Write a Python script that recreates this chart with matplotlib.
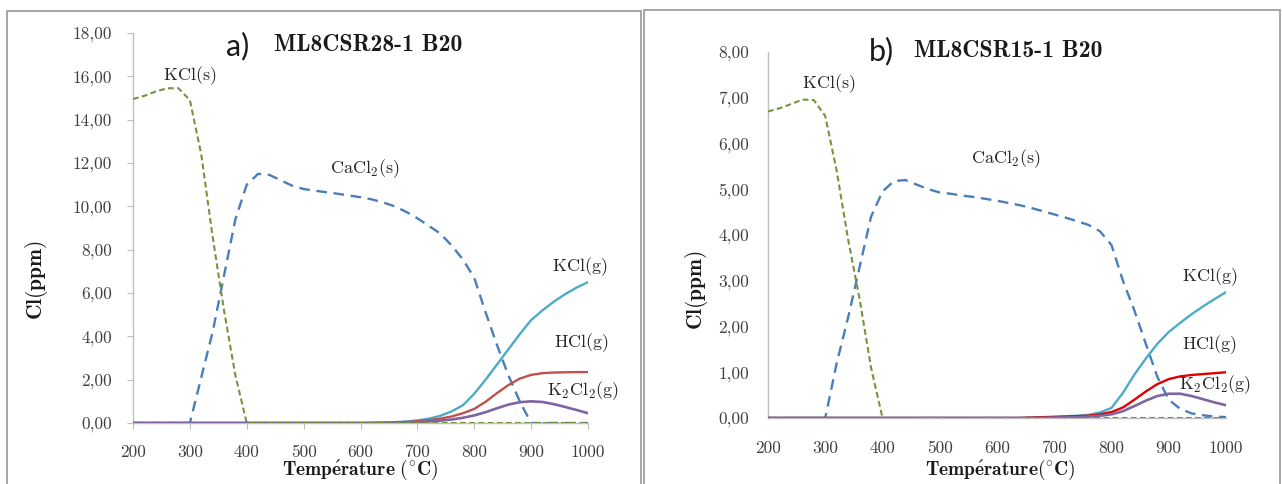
import matplotlib
matplotlib.use("Agg")
import matplotlib.pyplot as plt
from matplotlib.patches import Rectangle
from matplotlib.ticker import FuncFormatter

plt.rcParams['mathtext.fontset'] = 'cm'
plt.rcParams['axes.unicode_minus'] = False

# ---------------- data ----------------
T = list(range(200, 1001, 20))  # 200..1000 °C

# panel a) ML8CSR28-1 B20
a_kcl_s = [14.95, 15.1, 15.3, 15.45, 15.45, 14.9, 12.4, 8.6, 5.2, 2.2, 0.0] + [0.0] * 30
a_cacl2_s = [0, 0, 0, 0, 0, 0, 2.1, 4.2, 6.8, 9.4, 11.0, 11.5, 11.45, 11.2, 10.95, 10.8,
             10.72, 10.65, 10.58, 10.5, 10.42, 10.32, 10.18, 10.0, 9.75, 9.45, 9.1, 8.75,
             8.2, 7.55, 6.7, 5.1, 3.6, 2.2, 1.0, 0.0, 0, 0, 0, 0, 0]
a_kcl_g = [0] * 21 + [0.01, 0.02, 0.04, 0.07, 0.12, 0.2, 0.33, 0.53, 0.82, 1.35, 2.0, 2.7,
                      3.4, 4.1, 4.75, 5.2, 5.6, 5.95, 6.25, 6.5]
a_hcl_g = [0] * 22 + [0.01, 0.02, 0.04, 0.08, 0.13, 0.2, 0.3, 0.45, 0.65, 0.98, 1.38, 1.75,
                      2.05, 2.22, 2.3, 2.33, 2.34, 2.35, 2.35]
a_k2cl2_g = [0] * 22 + [0.005, 0.01, 0.02, 0.04, 0.07, 0.11, 0.16, 0.24, 0.35, 0.5, 0.68,
                        0.85, 0.96, 1.0, 0.97, 0.87, 0.74, 0.6, 0.45]

# panel b) ML8CSR15-1 B20
b_kcl_s = [6.7, 6.77, 6.86, 6.96, 6.95, 6.6, 5.4, 3.9, 2.6, 1.1, 0.0] + [0.0] * 30
b_cacl2_s = [0, 0, 0, 0, 0, 0, 1.2, 2.2, 3.3, 4.4, 4.95, 5.18, 5.2, 5.1, 5.0, 4.93, 4.9,
             4.86, 4.83, 4.79, 4.75, 4.7, 4.65, 4.59, 4.52, 4.45, 4.38, 4.3, 4.22, 4.08,
             3.78, 3.0, 2.35, 1.62, 0.9, 0.4, 0.2, 0.1, 0.06, 0.03, 0.02]
b_kcl_g = [0] * 23 + [0.01, 0.02, 0.03, 0.04, 0.05, 0.07, 0.12, 0.22, 0.55, 0.95, 1.3, 1.62,
                      1.88, 2.08, 2.27, 2.44, 2.6, 2.75]
b_hcl_g = [0] * 23 + [0.01, 0.015, 0.02, 0.03, 0.04, 0.05, 0.08, 0.13, 0.23, 0.4, 0.58,
                      0.74, 0.85, 0.91, 0.94, 0.96, 0.98, 1.0]
b_k2cl2_g = [0] * 25 + [0.01, 0.015, 0.02, 0.03, 0.05, 0.08, 0.15, 0.26, 0.38, 0.48, 0.53,
                        0.53, 0.48, 0.41, 0.34, 0.28]

x_ticks = [200, 300, 400, 500, 600, 700, 800, 900, 1000]
a_yticks = [0, 2, 4, 6, 8, 10, 12, 14, 16, 18]
b_yticks = [0, 1, 2, 3, 4, 5, 6, 7, 8]

# ---------------- figure ----------------
W, H = 1282, 484
fig = plt.figure(figsize=(W / 100, H / 100), dpi=100)


def fx(px):
    return px / W


def fy(py):
    return 1 - py / H


# panel frames
for x0, x1, ytop in [(7, 641, 11), (644, 1280, 10)]:
    fig.add_artist(Rectangle((fx(x0), -0.05), fx(x1 - x0), fy(ytop) + 0.05,
                             transform=fig.transFigure, fill=False,
                             edgecolor='#A6A6A6', lw=1.4, clip_on=False))

C_GREEN = '#77933C'
C_BLUE = '#4A7EBB'
C_CYAN = '#4BACC6'
C_RED_A = '#C0504D'
C_RED_B = '#E00000'
C_PURPLE = '#8064A2'

comma_fmt = FuncFormatter(lambda v, p: f"{v:.2f}".replace('.', ','))


def make_panel(rect, ymax, yticks, kcl_s, cacl2_s, kcl_g, hcl_g, k2cl2_g, red,
               with_ticks, ypad, xpad):
    ax = fig.add_axes(rect)
    ax.plot(T, cacl2_s, color=C_BLUE, lw=1.7, ls=(0, (4.5, 2.8)), zorder=3)
    ax.plot(T, kcl_g, color=C_CYAN, lw=1.7, zorder=4)
    ax.plot(T, hcl_g, color=red, lw=1.7, zorder=4)
    ax.plot(T, k2cl2_g, color=C_PURPLE, lw=1.9, zorder=5)
    ax.plot(T, kcl_s, color=C_GREEN, lw=1.5, ls=(0, (2.8, 1.6)), zorder=6)
    ax.set_xlim(200, 1000)
    ax.set_ylim(0, ymax)
    ax.set_xticks(x_ticks)
    ax.set_yticks(yticks)
    ax.yaxis.set_major_formatter(comma_fmt)
    for s in ['top', 'right']:
        ax.spines[s].set_visible(False)
    for s in ['left', 'bottom']:
        ax.spines[s].set_color('#BFBFBF')
        ax.spines[s].set_linewidth(1.0)
    tl = 4.5 if with_ticks else 0
    ax.tick_params(axis='y', length=tl, color='#BFBFBF', pad=ypad, labelcolor='#404040')
    ax.tick_params(axis='x', length=tl, color='#BFBFBF', pad=xpad, labelcolor='#404040')
    for lab in ax.get_xticklabels() + ax.get_yticklabels():
        lab.set_fontfamily('cmr10')
        lab.set_fontsize(12.5)
    ax.patch.set_alpha(0)
    return ax


ax_a = make_panel([fx(133), fy(423), fx(588 - 133), (423 - 33) / H], 18, a_yticks,
                  a_kcl_s, a_cacl2_s, a_kcl_g, a_hcl_g, a_k2cl2_g, C_RED_A, True, 10.5, 11)
ax_b = make_panel([fx(768), fy(418), fx(1226 - 768), (418 - 52) / H], 8, b_yticks,
                  b_kcl_s, b_cacl2_s, b_kcl_g, b_hcl_g, b_k2cl2_g, C_RED_B, False, 13.5, 16)

# curve labels
lab_kw = dict(fontsize=13, color='#262626', ha='center', va='center')
ax_a.text(300, 16.05, r'$\mathrm{KCl(s)}$', **lab_kw)
ax_a.text(608, 11.75, r'$\mathrm{CaCl_2(s)}$', **lab_kw)
ax_a.text(986, 7.2, r'$\mathrm{KCl(g)}$', **lab_kw)
ax_a.text(989, 3.7, r'$\mathrm{HCl(g)}$', **lab_kw)
ax_a.text(991, 1.5, r'$\mathrm{K_2Cl_2(g)}$', **lab_kw)

ax_b.text(306, 7.3, r'$\mathrm{KCl(s)}$', **lab_kw)
ax_b.text(615, 5.67, r'$\mathrm{CaCl_2(s)}$', **lab_kw)
ax_b.text(971, 3.1, r'$\mathrm{KCl(g)}$', **lab_kw)
ax_b.text(971, 1.6, r'$\mathrm{HCl(g)}$', **lab_kw)
ax_b.text(980, 0.72, r'$\mathrm{K_2Cl_2(g)}$', **lab_kw)

# titles
fig.text(fx(238), fy(46), 'a)', family='Lato', fontsize=22, ha='center', va='center',
         color='#1a1a1a')
fig.text(fx(368), fy(45), 'ML8CSR28-1 B20', family='cmb10', fontsize=17, ha='center',
         va='center', color='#1a1a1a')
fig.text(fx(881), fy(51), 'b)', family='Lato', fontsize=22, ha='center', va='center',
         color='#1a1a1a')
fig.text(fx(1008), fy(51), 'ML8CSR15-1 B20', family='cmb10', fontsize=17, ha='center',
         va='center', color='#1a1a1a')

# axis labels
fig.text(fx(360), fy(470), r'$\mathbf{Temp\acute{e}rature\ (^{\circ}C)}$', fontsize=14,
         ha='center', va='center', color='#1a1a1a')
fig.text(fx(1000), fy(470), r'$\mathbf{Temp\acute{e}rature(^{\circ}C)}$', fontsize=14,
         ha='center', va='center', color='#1a1a1a')
fig.text(fx(36), fy(280), r'$\mathbf{Cl(ppm)}$', fontsize=15.5, rotation=90,
         ha='center', va='center', color='#1a1a1a')
fig.text(fx(697), fy(290), r'$\mathbf{Cl(ppm)}$', fontsize=15.5, rotation=90,
         ha='center', va='center', color='#1a1a1a')

fig.savefig('out.png', dpi=100)
